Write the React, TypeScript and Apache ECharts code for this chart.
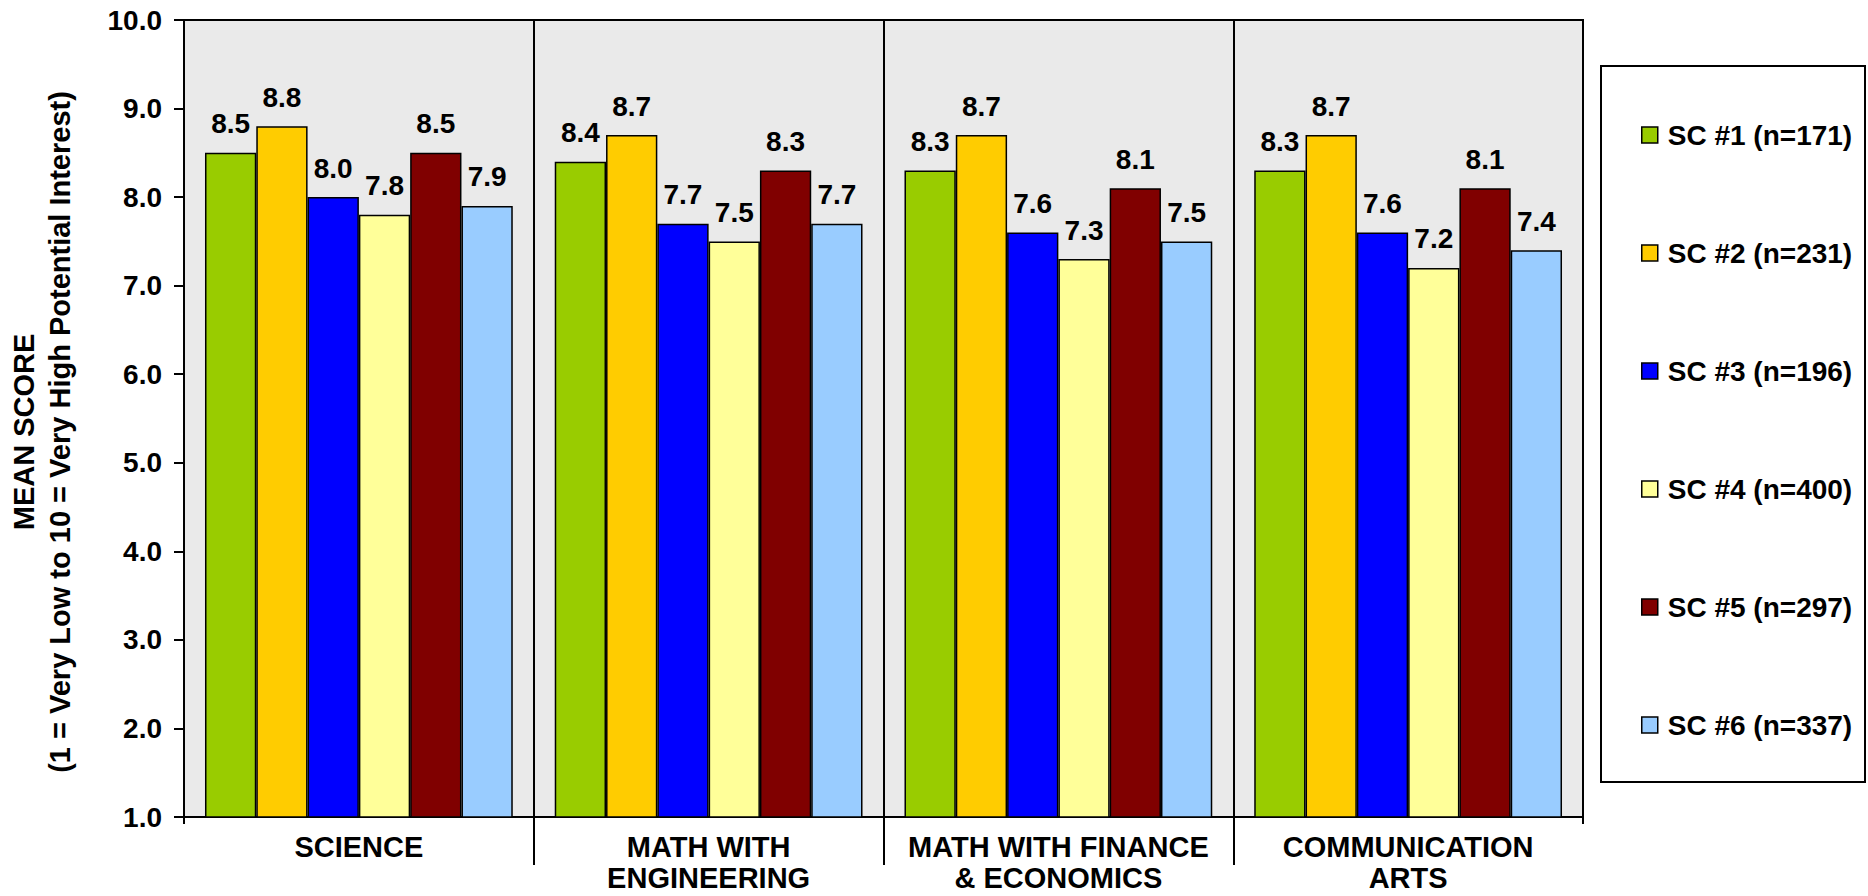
import React, { useEffect, useRef } from "react";
import * as echarts from "echarts";

// Subject areas shown along the x axis
const categories: string[] = [
  "SCIENCE",
  "MATH WITH\nENGINEERING",
  "MATH WITH FINANCE\n& ECONOMICS",
  "COMMUNICATION\nARTS",
];

// One series per survey group
const seriesNames: string[] = [
  "SC #1 (n=171)",
  "SC #2 (n=231)",
  "SC #3 (n=196)",
  "SC #4 (n=400)",
  "SC #5 (n=297)",
  "SC #6 (n=337)",
];

const sc1: number[] = [8.5, 8.4, 8.3, 8.3];
const sc2: number[] = [8.8, 8.7, 8.7, 8.7];
const sc3: number[] = [8.0, 7.7, 7.6, 7.6];
const sc4: number[] = [7.8, 7.5, 7.3, 7.2];
const sc5: number[] = [8.5, 8.3, 8.1, 8.1];
const sc6: number[] = [7.9, 7.7, 7.5, 7.4];

const seriesValues: number[][] = [sc1, sc2, sc3, sc4, sc5, sc6];

const seriesColors: string[] = ["#99CC00", "#FFCC00", "#0000FF", "#FFFF99", "#800000", "#99CCFF"];

const FONT = "'Liberation Sans', Arial, Helvetica, sans-serif";

export default function App() {
  const ref = useRef<HTMLDivElement>(null);

  useEffect(() => {
    if (!ref.current) return;
    const chart = echarts.init(ref.current, undefined, { renderer: "svg" });

    const gridLeft = 184;
    const gridTop = 20;
    const gridRight = 285;
    const gridBottom = 79;

    const option: any = {
      animation: false,
      backgroundColor: "#FFFFFF",
      textStyle: { fontFamily: FONT },
      grid: [
        {
          left: gridLeft,
          top: gridTop,
          right: gridRight,
          bottom: gridBottom,
          show: true,
          backgroundColor: "#EAEAEA",
          borderColor: "#000000",
          borderWidth: 2,
        },
        {
          // thin strip under the plot carrying the category separators
          left: gridLeft,
          right: gridRight,
          top: 896 - gridBottom,
          height: 48,
          show: false,
        },
      ],
      xAxis: [
        {
          type: "category",
          gridIndex: 0,
          data: categories,
          boundaryGap: true,
          axisLine: { show: true, lineStyle: { color: "#000000", width: 2 } },
          axisTick: { show: true, length: 7, lineStyle: { color: "#000000", width: 2 } },
          axisLabel: {
            interval: 0,
            margin: 14,
            color: "#000000",
            fontFamily: FONT,
            fontWeight: "bold",
            fontSize: 29,
            lineHeight: 31,
          },
          splitLine: { show: true, lineStyle: { color: "#000000", width: 2 } },
        },
        {
          type: "category",
          gridIndex: 1,
          data: categories,
          boundaryGap: true,
          axisLine: { show: false },
          axisTick: { show: false },
          axisLabel: { show: false },
          splitLine: {
            show: true,
            showMinLine: false,
            showMaxLine: false,
            lineStyle: { color: "#000000", width: 2 },
          },
        },
      ],
      yAxis: [
        {
          type: "value",
          gridIndex: 0,
          min: 1,
          max: 10,
          interval: 1,
          axisLine: { show: true, lineStyle: { color: "#000000", width: 2 } },
          axisTick: { show: true, length: 10, lineStyle: { color: "#000000", width: 2 } },
          axisLabel: {
            margin: 22,
            color: "#000000",
            fontFamily: FONT,
            fontWeight: "bold",
            fontSize: 28,
            formatter: (v: number) => v.toFixed(1),
          },
          splitLine: { show: false },
        },
        {
          type: "value",
          gridIndex: 1,
          show: false,
          min: 0,
          max: 1,
        },
      ],
      legend: {
        orient: "vertical",
        left: 1636,
        top: 115,
        itemWidth: 16,
        itemHeight: 16,
        itemGap: 88,
        icon: "rect",
        data: seriesNames,
        itemStyle: { borderColor: "#000000", borderWidth: 1.5 },
        textStyle: {
          color: "#000000",
          fontFamily: FONT,
          fontWeight: "bold",
          fontSize: 28,
          lineHeight: 30,
          padding: [0, 0, 0, 5],
        },
      },
      graphic: [
        {
          type: "rect",
          shape: { x: 1601, y: 66, width: 264, height: 716 },
          style: { fill: "none", stroke: "#000000", lineWidth: 2 },
          silent: true,
        },
        {
          type: "text",
          x: 42,
          y: 432,
          rotation: Math.PI / 2,
          style: {
            text: "MEAN SCORE\n(1 = Very Low to 10 = Very High Potential Interest)",
            fill: "#000000",
            font: `bold 29px ${FONT}`,
            align: "center",
            verticalAlign: "middle",
            lineHeight: 36,
          },
          silent: true,
        },
      ],
      series: seriesNames.map((name, i) => ({
        name,
        type: "bar",
        xAxisIndex: 0,
        yAxisIndex: 0,
        data: seriesValues[i],
        barGap: "0%",
        barCategoryGap: "12%",
        itemStyle: {
          color: seriesColors[i],
          borderColor: "#000000",
          borderWidth: 1.5,
        },
        label: {
          show: true,
          position: "top",
          distance: 15,
          color: "#000000",
          fontFamily: FONT,
          fontWeight: "bold",
          fontSize: 28,
          formatter: (p: any) => Number(p.value).toFixed(1),
        },
      })),
    };

    chart.setOption(option);
    return () => {
      chart.dispose();
    };
  }, []);

  return (
    <div
      ref={ref}
      style={{ position: "fixed", left: 0, top: 0, width: 1868, height: 896 }}
    />
  );
}
